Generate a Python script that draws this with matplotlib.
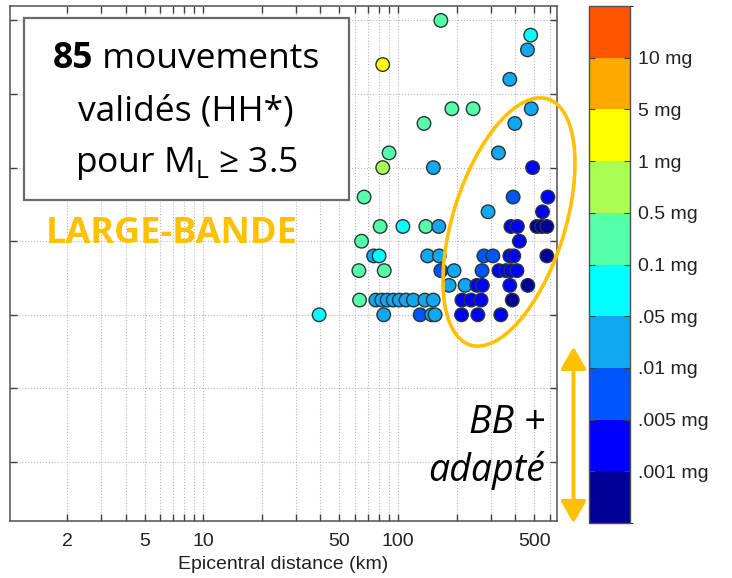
import numpy as np
import matplotlib
matplotlib.use("Agg")
import matplotlib.pyplot as plt
from matplotlib.colors import ListedColormap, BoundaryNorm
from matplotlib.cm import ScalarMappable
from matplotlib.patches import Ellipse, Rectangle, FancyArrowPatch
from matplotlib.transforms import IdentityTransform
import matplotlib.ticker as mticker

# ---------------- data ----------------
# epicentral distance (km)
distance_km = [166, 480, 462, 83.5, 375,
               189, 243, 483,
               136, 398,
               90, 328,
               83.5, 152, 491,
               67, 390, 588,
               290, 552,
               81, 106, 139, 162, 380, 410, 516, 547, 581,
               65, 420,
               75, 80, 142, 163, 276, 307, 375, 393, 581,
               63, 85, 166, 194, 270, 330, 358, 380, 408,
               183, 221, 254, 271, 375, 464,
               63.5, 77, 82.5, 88, 94.6, 101.6, 110, 120, 137.5, 151.7, 213, 237, 267, 386,
               39.4, 84.5, 130, 149, 155, 212, 257, 337]
# magnitude ML
magnitude = [5.5, 5.4, 5.3, 5.2, 5.1,
             4.9, 4.9, 4.9,
             4.8, 4.8,
             4.6, 4.6,
             4.5, 4.5, 4.5,
             4.3, 4.3, 4.3,
             4.2, 4.2,
             4.1, 4.1, 4.1, 4.1, 4.1, 4.1, 4.1, 4.1, 4.1,
             4.0, 4.0,
             3.9, 3.9, 3.9, 3.9, 3.9, 3.9, 3.9, 3.9, 3.9,
             3.8, 3.8, 3.8, 3.8, 3.8, 3.8, 3.8, 3.8, 3.8,
             3.7, 3.7, 3.7, 3.7, 3.7, 3.7,
             3.6, 3.6, 3.6, 3.6, 3.6, 3.6, 3.6, 3.6, 3.6, 3.6, 3.6, 3.6, 3.6, 3.6,
             3.5, 3.5, 3.5, 3.5, 3.5, 3.5, 3.5, 3.5]
# PGA class (0: <.001 mg ... 9: >10 mg)
pga_class = [5, 4, 3, 7, 3,
             5, 5, 3,
             5, 3,
             5, 3,
             6, 3, 1,
             5, 2, 1,
             3, 1,
             5, 4, 5, 3, 1, 1, 0, 0, 0,
             5, 1,
             3, 4, 3, 3, 2, 2, 1, 1, 0,
             5, 5, 2, 3, 2, 1, 1, 1, 1,
             3, 3, 1, 1, 1, 0,
             5, 3, 3, 3, 3, 3, 3, 3, 3, 3, 1, 1, 1, 0,
             4, 3, 2, 3, 3, 1, 1, 1]

class_colors = ["#000099", "#0000FF", "#0055FF", "#10A8F0", "#00FFFF",
                "#55FFAA", "#AAFF55", "#FFFF00", "#FFA800", "#FF5500"]
cbar_labels = [".001 mg", ".005 mg", ".01 mg", ".05 mg", "0.1 mg",
               "0.5 mg", "1 mg", "5 mg", "10 mg"]
xtick_major = [2, 5, 10, 50, 100, 500]
xtick_labels = ["2", "5", "10", "50", "100", "500"]
ytick_vals = [2.5, 3.0, 3.5, 4.0, 4.5, 5.0, 5.5]

# ---------------- figure ----------------
W, H = 732, 578
fig = plt.figure(figsize=(W / 100, H / 100), dpi=100)
PX = IdentityTransform()
plt.rcParams["mathtext.fontset"] = "custom"
plt.rcParams["mathtext.rm"] = "Open Sans"

ax = fig.add_axes([10 / W, (H - 521) / H, (557 - 10) / W, (521 - 6) / H])
cmap = ListedColormap(class_colors)
norm = BoundaryNorm(np.arange(11), 10)

ax.set_xscale("log")
ax.set_xlim(1.02, 655)
ax.set_ylim(2.099, 5.598)
ax.set_xticks(xtick_major)
ax.set_xticklabels(xtick_labels)
minor = [v * 10 ** e for e in range(0, 3) for v in range(1, 10)]
minor = [m for m in minor if m not in xtick_major and 1.02 < m < 655]
ax.xaxis.set_minor_locator(mticker.FixedLocator(minor))
ax.xaxis.set_minor_formatter(mticker.NullFormatter())
ax.set_yticks(ytick_vals)
ax.set_yticklabels([])
ax.grid(True, which="both", axis="x", linestyle=":", color="#b8b8b8", linewidth=0.8)
ax.grid(True, which="major", axis="y", linestyle=":", color="#b8b8b8", linewidth=0.8)
ax.set_axisbelow(True)
ax.tick_params(which="both", direction="in", top=True, right=True,
               length=5, width=1, color="#404040", labelsize=14,
               labelcolor="#222222", pad=9)
for sp in ax.spines.values():
    sp.set_color("#505050")
    sp.set_linewidth(1.1)
for lab in ax.get_xticklabels():
    lab.set_fontfamily("Liberation Sans")
ax.set_xlabel("Epicentral distance (km)", fontsize=14, family="Liberation Sans",
              color="#222222", labelpad=4)

ax.scatter(distance_km, magnitude, c=np.array(pga_class) + 0.5, cmap=cmap, norm=norm,
           s=95, edgecolors="#2a3535", linewidths=1.0, zorder=3)

# colorbar
cax = fig.add_axes([589 / W, (H - 523) / H, 41 / W, 517 / H])
cb = fig.colorbar(ScalarMappable(norm=norm, cmap=cmap), cax=cax, ticks=np.arange(1, 10))
cb.set_ticklabels(cbar_labels)
cb.outline.set_edgecolor("#505050")
cb.outline.set_linewidth(1.0)
cax.tick_params(direction="in", length=4, color="#404040", labelsize=14,
                labelcolor="#222222", pad=6, left=True, right=True)
for lab in cax.get_yticklabels():
    lab.set_fontfamily("Liberation Sans")

# ---------------- annotations ----------------
ORANGE = "#FFC000"
box = Rectangle((24, H - 200), 325, 182, transform=PX, facecolor="white",
                edgecolor="#6a6a6a", linewidth=1.6, zorder=5)
fig.add_artist(box)

fam = ["Open Sans", "DejaVu Sans"]
fs_box = 25.5
cx = 186
t1 = fig.text(0, H - 68, "85", transform=PX, fontsize=fs_box, family=fam,
              weight="bold", va="baseline", ha="left", zorder=6)
t2 = fig.text(0, H - 68, " mouvements", transform=PX, fontsize=fs_box, family=fam,
              va="baseline", ha="left", zorder=6)
fig.text(cx, H - 121, "validés (HH*)", transform=PX, fontsize=fs_box, family=fam,
         va="baseline", ha="center", zorder=6)
fig.text(cx, H - 172, r"pour M$_{\mathrm{L}}$ ≥ 3.5", transform=PX, fontsize=fs_box,
         family=fam, va="baseline", ha="center", zorder=6)
fig.canvas.draw()
r = fig.canvas.get_renderer()
w1 = t1.get_window_extent(r).width
w2 = t2.get_window_extent(r).width
x0 = cx - (w1 + w2) / 2
t1.set_position((x0, H - 68))
t2.set_position((x0 + w1, H - 68))

fig.text(172, H - 243, "LARGE-BANDE", transform=PX, fontsize=26, family=fam,
         weight="bold", color=ORANGE, va="baseline", ha="center", zorder=6)

ell = Ellipse((509, H - 222), 258, 112, angle=72.5, transform=PX, fill=False,
              edgecolor=ORANGE, linewidth=2.6, zorder=6, clip_on=False)
fig.add_artist(ell)

arr = FancyArrowPatch((573.5, H - 344), (573.5, H - 526), transform=PX,
                      arrowstyle="<|-|>,head_length=0.95,head_width=0.55",
                      mutation_scale=14, color=ORANGE, linewidth=2.8, zorder=6)
fig.add_artist(arr)

fig.text(545, H - 433, "BB +", transform=PX, fontsize=27, family=fam,
         style="italic", va="baseline", ha="right", zorder=6)
fig.text(545, H - 481, "adapté", transform=PX, fontsize=27, family=fam,
         style="italic", va="baseline", ha="right", zorder=6)

fig.savefig("out.png", dpi=100)
